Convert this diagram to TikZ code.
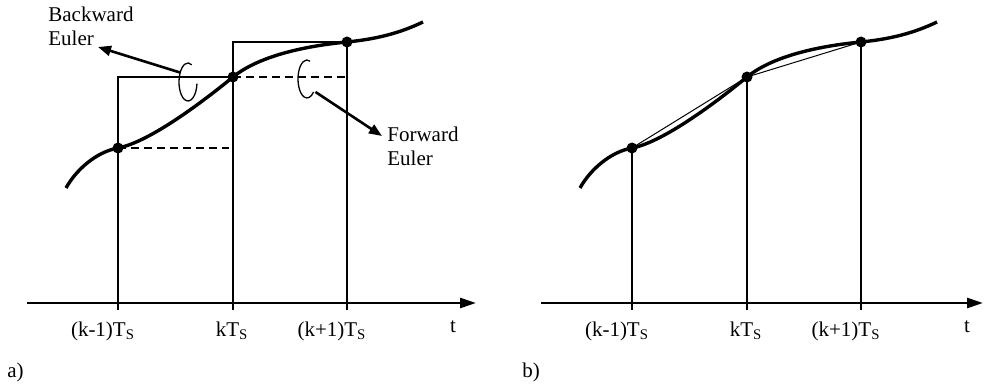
\documentclass[tikz,border=0pt]{standalone}
\usepackage{fontspec}
\setmainfont{Liberation Serif}
\usetikzlibrary{arrows.meta}
\begin{document}
\begin{tikzpicture}[x=0.5pt,y=-0.5pt,
  curveline/.style={line width=1.7pt},
  thinline/.style={line width=0.65pt},
  chord/.style={line width=0.5pt},
  axisline/.style={line width=1.3pt,-{Triangle[length=8pt,width=5pt]}},
  tickline/.style={line width=1pt},
  pointer/.style={line width=1.3pt,-{Triangle[length=6.5pt,width=5pt]}},
  dashline/.style={line width=0.65pt,dash pattern=on 4pt off 2.5pt},
  dot/.style={circle,fill=black,inner sep=0pt,minimum size=5.5pt},
  lab/.style={font=\fontsize{10.5}{12}\selectfont,inner sep=0pt,anchor=base},
  note/.style={font=\fontsize{10.5}{12}\selectfont,inner sep=0pt,align=left,anchor=base west},
  loopmark/.style={line width=0.65pt},
  ]
\useasboundingbox (0,0) rectangle (984,389);

% ---------------- panel a ----------------
\coordinate (a-ax0) at (27,303);
\coordinate (a-ax1) at (476,303);
\coordinate (a-T1) at (118,303);
\coordinate (a-T2) at (233,303);
\coordinate (a-T3) at (347,303);
\node[dot] (a-P1) at (118,148) {};
\node[dot] (a-P2) at (233,77) {};
\node[dot] (a-P3) at (347,42) {};
\coordinate (a-C0) at (66,188);
\coordinate (a-C4) at (423,22);
\coordinate (a-D1) at (229,148);
\coordinate (a-D2) at (345,77);

\draw[axisline] (a-ax0) -- (a-ax1);
\foreach \x in {118,233,347} \draw[tickline] (\x,295) -- (\x,310);
\draw[thinline] (a-T1) -- (a-T1 |- a-P2) -- (a-P2.center);
\draw[thinline] (a-T2) -- (a-T2 |- a-P3) -- (a-P3.center) -- (a-T3);
\draw[dashline] (a-P1.center) -- (a-D1);
\draw[dashline] (a-P2.center) -- (a-D2);
\draw[curveline] (a-C0) .. controls (76,170) and (96,152) .. (a-P1.center)
  .. controls (150,142) and (205,100) .. (a-P2.center)
  .. controls (255,59) and (295,47) .. (a-P3.center)
  .. controls (377,39) and (400,33) .. (a-C4);

% loops and pointers
\draw[loopmark] (188,82) ++(-65:9 and 19) arc[start angle=-65,end angle=-355,x radius=9,y radius=19];
\draw[loopmark] (307,79) ++(-70:9 and 19) arc[start angle=-70,end angle=-317,x radius=9,y radius=19];
\node[note] (a-back) at (48,46) {Backward\\Euler};
\node[note] (a-fwd) at (387,166) {Forward\\Euler};
\coordinate (a-Lb) at (180,72.5);
\coordinate (a-Bt) at (98,47);
\coordinate (a-Lf) at (315.5,92);
\coordinate (a-Ft) at (382,136);
\draw[pointer] (a-Lb) -- (a-Bt);
\draw[pointer] (a-Lf) -- (a-Ft);

\node[lab] (a-L1) at (103,336) {(k-1)T\textsubscript{S}};
\node[lab] (a-L2) at (232,336) {kT\textsubscript{S}};
\node[lab] (a-L3) at (332,336) {(k+1)T\textsubscript{S}};
\node[lab] (a-t) at (453,333) {t};
\node[lab,anchor=base west] (a-tag) at (7,378) {a)};

% ---------------- panel b ----------------
\coordinate (b-ax0) at (541,303);
\coordinate (b-ax1) at (983,303);
\coordinate (b-T1) at (632,303);
\coordinate (b-T2) at (747,303);
\coordinate (b-T3) at (861,303);
\node[dot] (b-P1) at (632,148) {};
\node[dot] (b-P2) at (747,77) {};
\node[dot] (b-P3) at (861,42) {};
\coordinate (b-C0) at (580,188);
\coordinate (b-C4) at (937,22);

\draw[axisline] (b-ax0) -- (b-ax1);
\foreach \x in {632,747,861} \draw[tickline] (\x,295) -- (\x,310);
\draw[thinline] (b-T1) -- (b-P1.center);
\draw[thinline] (b-T2) -- (b-P2.center);
\draw[thinline] (b-T3) -- (b-P3.center);
\draw[chord] (b-P1.center) -- (b-P2.center) -- (b-P3.center);
\draw[curveline] (b-C0) .. controls (590,170) and (610,152) .. (b-P1.center)
  .. controls (664,142) and (719,100) .. (b-P2.center)
  .. controls (769,59) and (809,47) .. (b-P3.center)
  .. controls (891,39) and (914,33) .. (b-C4);

\node[lab] (b-L1) at (617,336) {(k-1)T\textsubscript{S}};
\node[lab] (b-L2) at (746,336) {kT\textsubscript{S}};
\node[lab] (b-L3) at (846,336) {(k+1)T\textsubscript{S}};
\node[lab] (b-t) at (967,333) {t};
\node[lab,anchor=base west] (b-tag) at (522,378) {b)};
\end{tikzpicture}
\end{document}
